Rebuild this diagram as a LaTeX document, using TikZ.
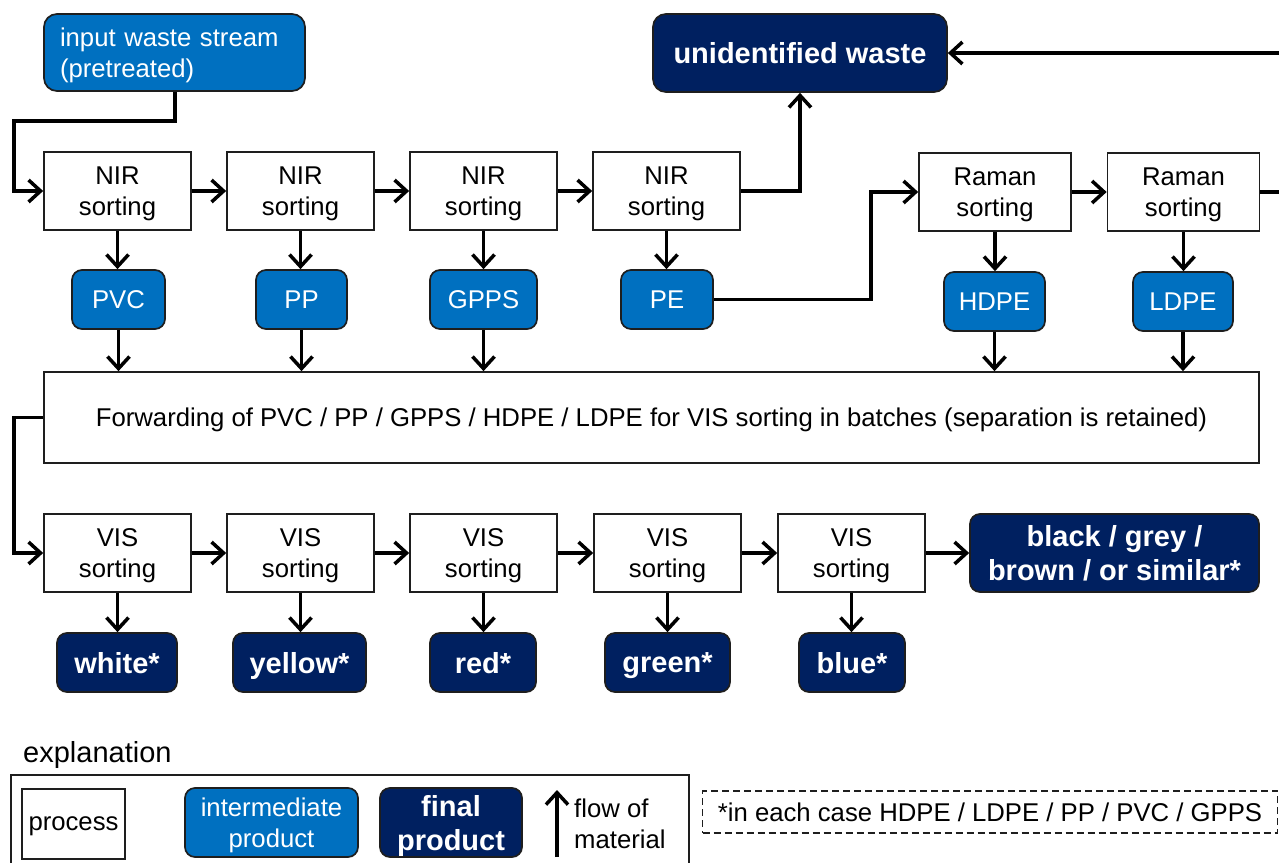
\documentclass[tikz,border=0pt]{standalone}
\usepackage{fontspec}
\setmainfont{Liberation Sans}
\usetikzlibrary{arrows.meta}
\definecolor{midblue}{RGB}{0,112,192}
\definecolor{navy}{RGB}{0,32,96}
\definecolor{edge}{RGB}{30,30,30}
\tikzset{
  reg/.style={font=\fontsize{25.7}{31}\selectfont, text depth=0pt},
  boldf/.style={font=\fontsize{29}{34}\selectfont\bfseries, text depth=0pt},
  proc/.style={draw=edge, line width=1.7pt, fill=white, align=center, inner sep=0pt, reg},
  inter/.style={draw=edge, line width=1.7pt, fill=midblue, text=white, rounded corners=10pt, align=center, inner sep=0pt, reg},
  final/.style={draw=edge, line width=1.7pt, fill=navy, text=white, rounded corners=10pt, align=center, inner sep=0pt, boldf},
  flow/.style={line width=3.5pt, -{Straight Barb[length=12pt,width=22pt,line width=3.5pt]}},
}
\begin{document}
\begin{tikzpicture}[x=1pt,y=-1pt]
\useasboundingbox (0,0) rectangle (1279,862);
% top row
\node[inter, minimum width=261pt, minimum height=77pt, text width=229pt, align=left, rounded corners=13pt, text depth=] (inp) at (174.5,52.5) {\rule{0pt}{24.6pt}input waste stream\\(pretreated)};
\node[final, minimum width=294pt, minimum height=78pt, rounded corners=13pt] (unid) at (800,53) {unidentified waste};
% NIR row
\node[proc, minimum width=147pt, minimum height=78pt] (n1) at (117.5,191) {NIR\\sorting};
\node[proc, minimum width=147pt, minimum height=78pt] (n2) at (300.5,191) {NIR\\sorting};
\node[proc, minimum width=147pt, minimum height=78pt] (n3) at (483.5,191) {NIR\\sorting};
\node[proc, minimum width=147pt, minimum height=78pt] (n4) at (666.5,191) {NIR\\sorting};
\node[proc, minimum width=152pt, minimum height=78pt] (r1) at (995,192) {Raman\\sorting};
\node[proc, minimum width=152pt, minimum height=78pt] (r2) at (1183.5,192) {Raman\\sorting};
% intermediate products
\node[inter, minimum width=93pt, minimum height=59pt] (pvc) at (118.5,299.5) {PVC};
\node[inter, minimum width=91pt, minimum height=59pt] (pp) at (301.5,299.5) {PP};
\node[inter, minimum width=107pt, minimum height=59pt] (gpps) at (483.5,299.5) {GPPS};
\node[inter, minimum width=92pt, minimum height=59pt] (pe) at (667,299.5) {PE};
\node[inter, minimum width=101pt, minimum height=59pt] (hdpe) at (994.5,301.5) {HDPE};
\node[inter, minimum width=100pt, minimum height=59pt] (ldpe) at (1183,301.5) {LDPE};
% forwarding
\node[proc, minimum width=1215pt, minimum height=91pt] (fwd) at (651.5,417.5) {Forwarding of PVC / PP / GPPS / HDPE / LDPE for VIS sorting in batches (separation is retained)};
% VIS row
\node[proc, minimum width=147pt, minimum height=78pt] (v1) at (117.5,553) {VIS\\sorting};
\node[proc, minimum width=147pt, minimum height=78pt] (v2) at (300.5,553) {VIS\\sorting};
\node[proc, minimum width=147pt, minimum height=78pt] (v3) at (483.5,553) {VIS\\sorting};
\node[proc, minimum width=147pt, minimum height=78pt] (v4) at (667.5,553) {VIS\\sorting};
\node[proc, minimum width=147pt, minimum height=78pt] (v5) at (851.5,553) {VIS\\sorting};
\node[final, minimum width=289pt, minimum height=78pt] (blk) at (1114.5,553) {black / grey /\\brown / or similar*};
% final colours
\node[final, minimum width=120pt, minimum height=59pt] (wh) at (117,662.5) {white*};
\node[final, minimum width=133pt, minimum height=59pt] (ye) at (299.5,662.5) {yellow*};
\node[final, minimum width=106pt, minimum height=59pt] (rd) at (483,662.5) {red*};
\node[final, minimum width=125pt, minimum height=59pt] (gr) at (667.5,662.5) {green*};
\node[final, minimum width=106pt, minimum height=59pt] (bl) at (852,662.5) {blue*};
% connectors top
\draw[flow] (inp.south -| 175,0) |- (14,121) |- (n1.west);
\draw[flow] (n1) -- (n2);
\draw[flow] (n2) -- (n3);
\draw[flow] (n3) -- (n4);
\draw[flow] (n4.east) -| (unid.south);
\draw[flow] (pe.east) -| (871,250) |- (r1.west);
\draw[flow] (r1) -- (r2);
\draw[flow] (r2.east) -- (1292,192) |- (unid.east);
% down arrows
\foreach \a/\b in {n1/pvc,n2/pp,n3/gpps,n4/pe,r1/hdpe,r2/ldpe}{
  \draw[flow] (\a.south) -- (\a.south |- \b.north);
}
\foreach \a in {pvc,pp,gpps,hdpe,ldpe}{
  \draw[flow] (\a.south) -- (\a.south |- fwd.north);
}
\draw[flow] (fwd.west) -- (14,417.5) |- (v1.west);
\draw[flow] (v1) -- (v2);
\draw[flow] (v2) -- (v3);
\draw[flow] (v3) -- (v4);
\draw[flow] (v4) -- (v5);
\draw[flow] (v5) -- (blk);
\foreach \a/\b in {v1/wh,v2/ye,v3/rd,v4/gr,v5/bl}{
  \draw[flow] (\a.south) -- (\a.south |- \b.north);
}
% legend
\node[anchor=west, inner sep=0pt, font=\fontsize{29}{34}\selectfont, text depth=0pt] (expl) at (23,752) {explanation};
\draw[line width=2pt, draw=edge] (11,775) rectangle (689,875);
\node[proc, minimum width=103pt, minimum height=70pt] (lproc) at (73.5,824) {process};
\node[inter, minimum width=173pt, minimum height=69pt] (linter) at (271.5,822.5) {intermediate\\product};
\node[final, minimum width=142pt, minimum height=69pt] (lfinal) at (451,822.5) {final\\product};
\coordinate (fa) at (557,857);
\coordinate (fb) at (557,790);
\draw[flow] (fa) -- (fb);
\node[reg, anchor=west, align=left, inner sep=0pt] (lflow) at (574,824) {flow of\\material};
\node[reg, draw=edge, dash pattern=on 7pt off 4pt, line width=1.5pt, minimum width=575pt, minimum height=42pt, inner sep=0pt] (note) at (990,812) {*in each case HDPE / LDPE / PP / PVC / GPPS};
\end{tikzpicture}
\end{document}
